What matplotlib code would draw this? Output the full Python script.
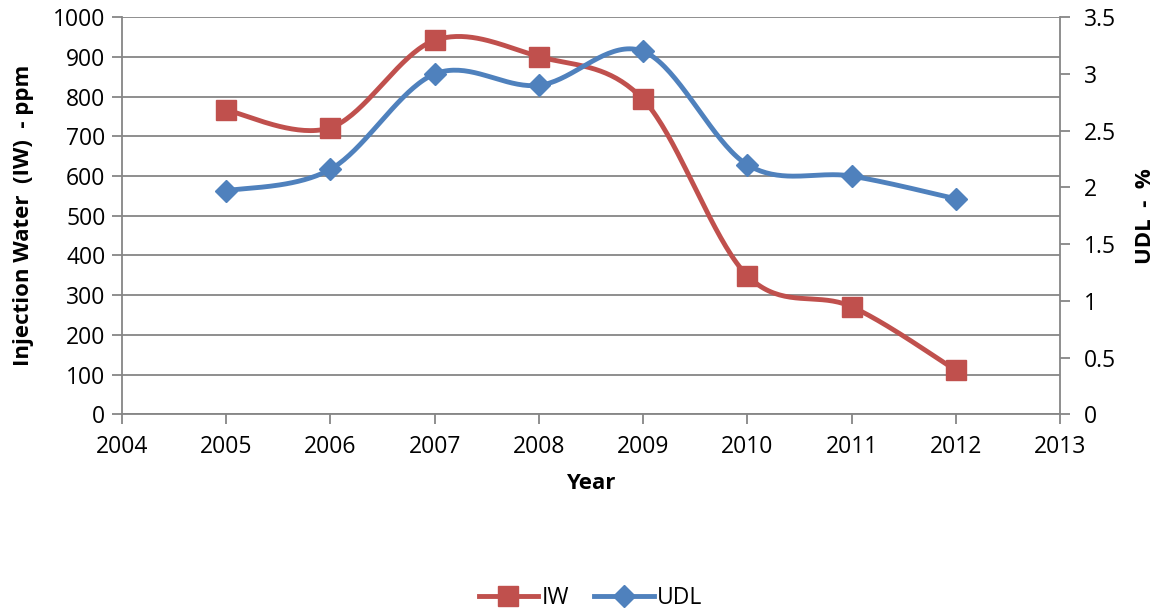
import numpy as np
import matplotlib
matplotlib.use("Agg")
import matplotlib.pyplot as plt

plt.rcParams['font.family'] = ['Open Sans', 'DejaVu Sans']

years = [2005, 2006, 2007, 2008, 2009, 2010, 2011, 2012]
iw_ppm = [766, 722, 942, 901, 793, 349, 271, 111]
udl_pct = [1.97, 2.16, 3.00, 2.90, 3.20, 2.20, 2.10, 1.90]

RED = '#C0504D'
BLUE = '#4F81BD'
GRID = '#868686'


def smooth(x, y, n=40):
    # Catmull-Rom style Bezier, like Excel's "smoothed line"
    x = np.asarray(x, float)
    y = np.asarray(y, float)
    xs, ys = [], []
    for i in range(len(x) - 1):
        i0 = max(i - 1, 0)
        i3 = min(i + 2, len(x) - 1)
        p0 = np.array([x[i], y[i]])
        p3 = np.array([x[i + 1], y[i + 1]])
        c1 = p0 + (p3 - np.array([x[i0], y[i0]])) / 6
        c2 = p3 - (np.array([x[i3], y[i3]]) - p0) / 6
        t = np.linspace(0, 1, n)[:, None]
        pts = ((1 - t) ** 3 * p0 + 3 * (1 - t) ** 2 * t * c1
               + 3 * (1 - t) * t ** 2 * c2 + t ** 3 * p3)
        xs.extend(pts[:, 0])
        ys.extend(pts[:, 1])
    return xs, ys


fig = plt.figure(figsize=(11.58, 6.11), dpi=100)
ax = fig.add_axes([0.1054, 0.322, 0.81, 0.6497])
ax2 = ax.twinx()

sx, sy = smooth(years, iw_ppm)
ax.plot(sx, sy, color=RED, lw=3.5, solid_capstyle='round', zorder=3)
ax.plot(years, iw_ppm, 's', color=RED, markersize=14, zorder=4)

sx, sy = smooth(years, udl_pct)
ax2.plot(sx, sy, color=BLUE, lw=3.5, solid_capstyle='round', zorder=3)
ax2.plot(years, udl_pct, 'D', color=BLUE, markersize=11, zorder=4)

ax.set_xlim(2004, 2013)
ax.set_ylim(0, 1000)
ax.set_yticks(range(0, 1001, 100))
ax.set_xticks(range(2004, 2014))
ax2.set_ylim(0, 3.5)
ax2.set_yticks([0, 0.5, 1, 1.5, 2, 2.5, 3, 3.5])
ax2.set_yticklabels(['0', '0.5', '1', '1.5', '2', '2.5', '3', '3.5'])

ax.grid(axis='y', color=GRID, lw=1.3)
ax.set_axisbelow(True)
for a in (ax, ax2):
    for s in a.spines.values():
        s.set_visible(False)
    a.tick_params(colors=GRID, labelcolor='black', labelsize=16.5,
                  length=7, width=1.3, pad=5)
ax.tick_params(axis='x', pad=8)
ax2.tick_params(axis='y', pad=10)
ax.spines['left'].set_visible(True)
ax.spines['bottom'].set_visible(True)
ax2.spines['right'].set_visible(True)
for s in (ax.spines['left'], ax.spines['bottom'], ax2.spines['right']):
    s.set_color(GRID)
    s.set_linewidth(1.3)

ax.set_ylabel('Injection Water  (IW)  - ppm', fontsize=16, fontweight='bold', labelpad=14)
ax2.set_ylabel('UDL  -  %', fontsize=16, fontweight='bold', labelpad=14)
ax.set_xlabel('Year', fontsize=16, fontweight='bold', labelpad=10)

h1, = ax.plot([], [], color=RED, lw=3.5, marker='s', markersize=14)
h2, = ax.plot([], [], color=BLUE, lw=3.5, marker='D', markersize=11)
fig.legend([h1, h2], ['IW', 'UDL'], loc='center', bbox_to_anchor=(0.51, 0.022),
           ncol=2, frameon=False, fontsize=16.5, handlelength=2.6,
           handletextpad=0.15, columnspacing=1.1)

fig.savefig('out.png', dpi=100)
